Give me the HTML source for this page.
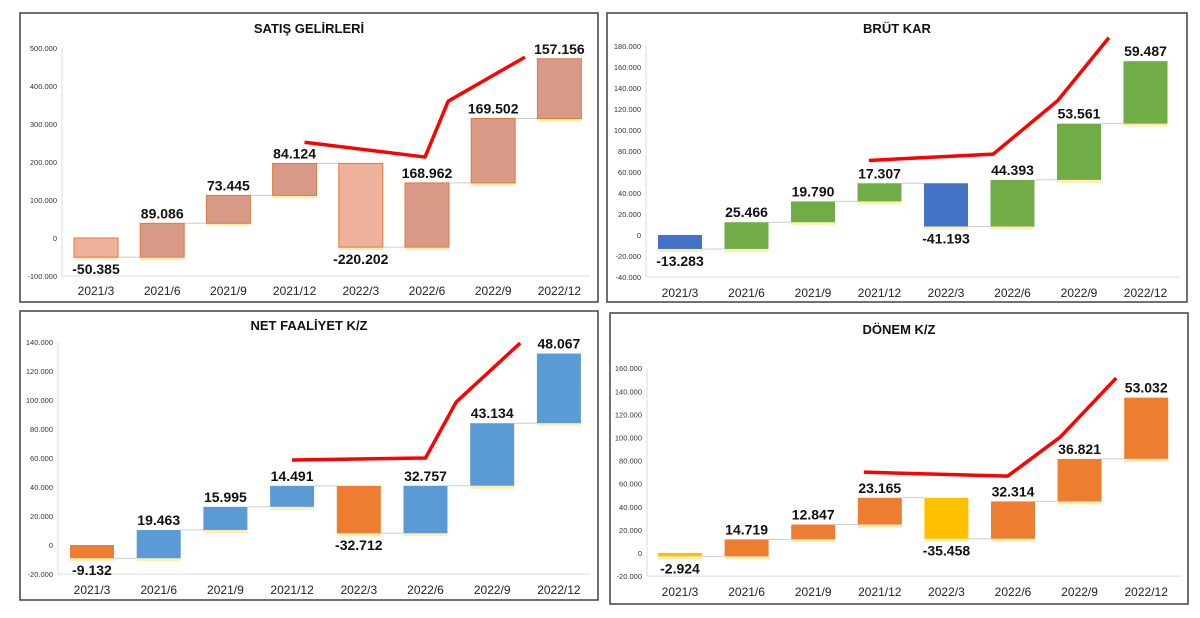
<!DOCTYPE html>
<html><head><meta charset="utf-8"><style>
body{margin:0;background:#fff;width:1200px;height:618px;overflow:hidden;font-family:"Liberation Sans",sans-serif}
svg{position:absolute;left:0;top:0}
</style></head><body>
<svg id="s" width="1200" height="618"></svg>
<script>
const categories=["2021/3","2021/6","2021/9","2021/12","2022/3","2022/6","2022/9","2022/12"];
const satisValues=[-50.385,89.086,73.445,84.124,-220.202,168.962,169.502,157.156];
const satisTicks=[-100,0,100,200,300,400,500];
const satisTrendX=[3.15,4.97,5.32,6.48];
const satisTrendY=[252,213,360,476];
const brutValues=[-13.283,25.466,19.790,17.307,-41.193,44.393,53.561,59.487];
const brutTicks=[-40,-20,0,20,40,60,80,100,120,140,160,180];
const brutTrendX=[2.84,4.71,5.68,6.45];
const brutTrendY=[71,77,128,188];
const netValues=[-9.132,19.463,15.995,14.491,-32.712,32.757,43.134,48.067];
const netTicks=[-20,0,20,40,60,80,100,120,140];
const netTrendX=[3.0,5.0,5.46,6.42];
const netTrendY=[58.6,60,98.6,139.3];
const donemValues=[-2.924,14.719,12.847,23.165,-35.458,32.314,36.821,53.032];
const donemTicks=[-20,0,20,40,60,80,100,120,140,160];
const donemTrendX=[2.76,4.92,5.71,6.55];
const donemTrendY=[70,66.6,100.4,151.5];

const svg=document.getElementById('s');
const NS='http://www.w3.org/2000/svg';
function mk(tag,at,parent){const e=document.createElementNS(NS,tag);for(const k in at)e.setAttribute(k,at[k]);(parent||svg).appendChild(e);return e;}
function fmt(v){const n=Math.round(v*1000);const s=Math.abs(n).toString().replace(/\B(?=(\d{3})+(?!\d))/g,'.');return (n<0?'-':'')+s;}

function chart(c,vals,ticks,tx,ty){
  const g=mk('g',{});
  
  
  const fr=mk('rect',{x:c.fx,y:c.fy,width:c.fw,height:c.fh,fill:'#fff',stroke:'#404040','stroke-width':1.5},g);
  
  
  const t=mk('text',{x:c.fx+c.fw/2,y:c.ty,'text-anchor':'middle','font-size':13,'font-weight':'bold',fill:'#111'},g);
  t.textContent=c.title;
  
  
  const Y=v=>c.zero-v*c.k;
  const X=i=>c.x0+i*c.step;
  const ymin=ticks[0];
  mk('line',{x1:c.ax,y1:Y(ticks[ticks.length-1]),x2:c.ax,y2:Y(ymin),stroke:'#ddd'},g);
  const xa=mk('line',{x1:c.ax,y1:Y(ymin),x2:c.rx,y2:Y(ymin),stroke:'#ddd'},g);
  
  
  ticks.forEach(v=>{
    const l=mk('text',{x:c.ax-5,y:Y(v)+3,'text-anchor':'end','font-size':7.5,fill:'#333'},g);
    l.textContent=v===0?'0':fmt(v);
    
    
  });
  let cum=0;
  vals.forEach((v,i)=>{
    const a=cum,b=cum+v;cum=b;
    const top=Math.max(a,b),bot=Math.min(a,b);
    const x=X(i)-c.bw/2;
    const col=v<0?c.neg:c.pos;
    if(i<vals.length-1) mk('line',{x1:x+c.bw,y1:Y(b),x2:X(i+1)-c.bw/2,y2:Y(b),stroke:'#ccc','stroke-width':1},g);
    mk('rect',{x:x,y:Y(bot),width:c.bw,height:3,fill:'#ffe9a0',opacity:0.8},g);
    const r=mk('rect',{x:x,y:Y(top),width:c.bw,height:Math.max(1,Y(bot)-Y(top)),fill:col,stroke:c.stroke||'none','stroke-width':1},g);
    
    
    const ly=v<0?Y(bot)+17:Y(top)-5;
    const lt=mk('text',{x:X(i),y:ly,'text-anchor':'middle','font-size':14,'font-weight':'bold',fill:'#111'},g);
    lt.textContent=fmt(v);
    
    
    const cl=mk('text',{x:X(i),y:c.cy,'text-anchor':'middle','font-size':12,fill:'#222'},g);
    cl.textContent=categories[i];
    
    
  });
  const pts=tx.map((xi,j)=>X(xi)+','+Y(ty[j])).join(' ');
  const pl=mk('polyline',{points:pts,fill:'none',stroke:'#f00','stroke-width':3.5,'stroke-linejoin':'round'},g);
  
  
}
chart({name:'satis-gelirleri-chart',title:'SATIŞ GELİRLERİ',fx:20,fy:13,fw:578,fh:289,ty:33,zero:238,k:0.38,x0:96,step:66.2,bw:44,ax:62,rx:590,cy:295,pos:'#d89a86',neg:'#eeb19b',stroke:'#e07a3a'},satisValues,satisTicks,satisTrendX,satisTrendY);
chart({name:'brut-kar-chart',title:'BRÜT KAR',fx:607,fy:13,fw:580,fh:289,ty:33,zero:235,k:1.05,x0:680,step:66.5,bw:44,ax:646,rx:1180,cy:297,pos:'#70ad47',neg:'#4472c4'},brutValues,brutTicks,brutTrendX,brutTrendY);
chart({name:'net-faaliyet-chart',title:'NET FAALİYET K/Z',fx:20,fy:311,fw:578,fh:289,ty:330,zero:545,k:1.45,x0:92,step:66.7,bw:44,ax:58,rx:590,cy:594,pos:'#5b9bd5',neg:'#ed7d31'},netValues,netTicks,netTrendX,netTrendY);
chart({name:'donem-kz-chart',title:'DÖNEM K/Z',fx:610,fy:313,fw:578,fh:291,ty:334,zero:553,k:1.155,x0:680,step:66.6,bw:44,ax:647,rx:1182,cy:596,pos:'#ed7d31',neg:'#ffc000'},donemValues,donemTicks,donemTrendX,donemTrendY);
</script>
</body></html>
